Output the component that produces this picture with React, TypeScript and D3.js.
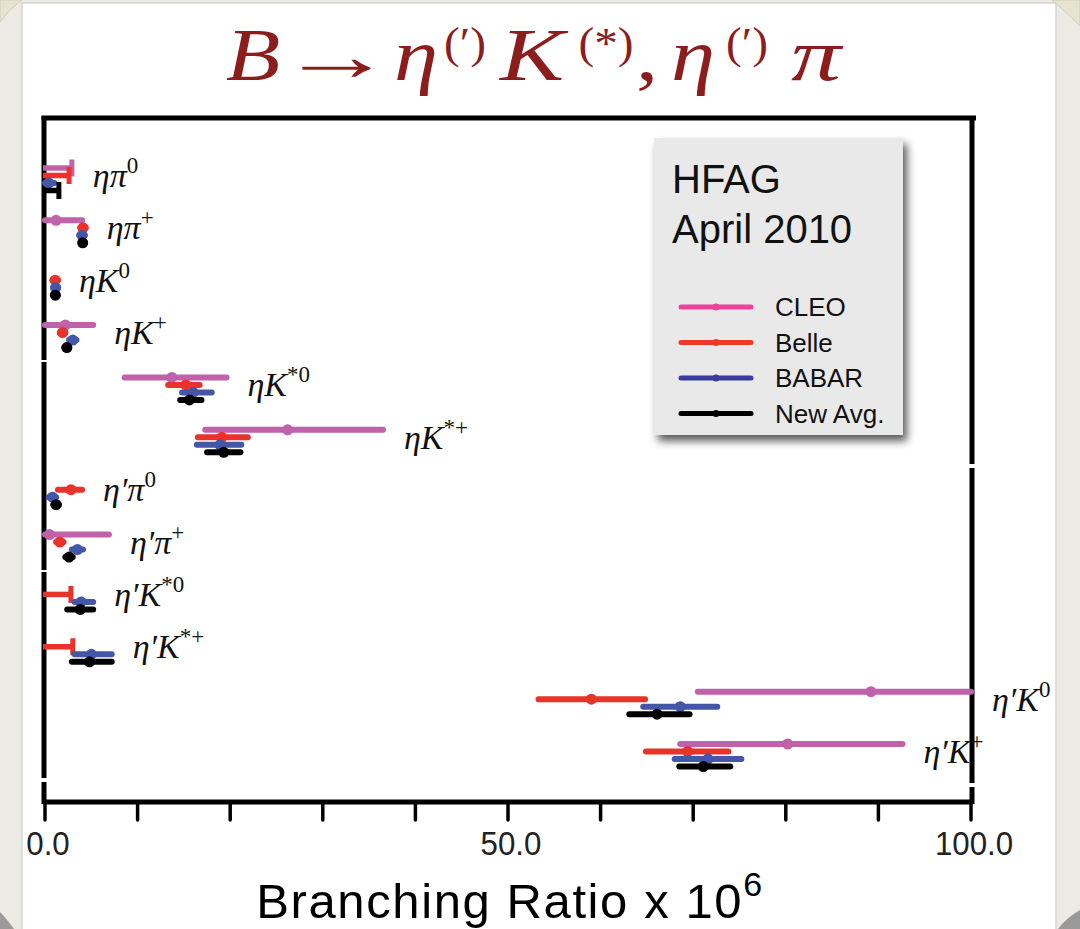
import React from "react";
import * as d3 from "d3";

type Entry = { v?: number; lo?: number; hi?: number; ul?: number } | null;

const rows = ["ηπ0", "ηπ+", "ηK0", "ηK+", "ηK*0", "ηK*+", "η′π0", "η′π+", "η′K*0", "η′K*+", "η′K0", "η′K+"];
// label parts: base text and superscript
const labelBase = ["ηπ", "ηπ", "ηK", "ηK", "ηK", "ηK", "η′π", "η′π", "η′K", "η′K", "η′K", "η′K"];
const labelSup = ["0", "+", "0", "+", "*0", "*+", "0", "+", "*0", "*+", "0", "+"];

const cleo: Entry[] = [
  { ul: 2.9 }, { v: 1.2, lo: 0, hi: 4.0 }, null, { v: 2.2, lo: 0, hi: 5.2 },
  { v: 13.7, lo: 8.6, hi: 19.6 }, { v: 26.2, lo: 17.3, hi: 36.5 }, null,
  { v: 0.5, lo: 0, hi: 6.9 }, null, null, { v: 89.2, lo: 70.5, hi: 100 }, { v: 80.2, lo: 68.6, hi: 92.6 },
];
const belle: Entry[] = [
  { ul: 2.6 }, { v: 4.1, lo: 3.8, hi: 4.4 }, { v: 1.1, lo: 0.8, hi: 1.4 }, { v: 1.9, lo: 1.6, hi: 2.2 },
  { v: 15.2, lo: 13.3, hi: 16.7 }, { v: 19.1, lo: 16.5, hi: 21.9 }, { v: 2.8, lo: 1.4, hi: 4.0 },
  { v: 1.6, lo: 1.2, hi: 2.0 }, { ul: 2.8 }, { ul: 3.0 }, { v: 59.0, lo: 53.3, hi: 64.8 }, { v: 69.4, lo: 64.9, hi: 73.8 },
];
const babar: Entry[] = [
  { v: 0.4, lo: 0, hi: 1.0 }, { v: 4.0, lo: 3.7, hi: 4.3 }, { v: 1.15, lo: 0.9, hi: 1.4 }, { v: 3.0, lo: 2.6, hi: 3.4 },
  { v: 16.0, lo: 14.8, hi: 18.0 }, { v: 18.9, lo: 16.4, hi: 21.2 }, { v: 0.8, lo: 0.4, hi: 1.2 },
  { v: 3.5, lo: 2.9, hi: 4.1 }, { v: 3.9, lo: 3.2, hi: 5.2 }, { v: 5.0, lo: 3.2, hi: 7.2 },
  { v: 68.6, lo: 64.6, hi: 72.6 }, { v: 71.6, lo: 68.0, hi: 75.2 },
];
const avg: Entry[] = [
  { ul: 1.5 }, { v: 4.07, lo: 3.85, hi: 4.3 }, { v: 1.12, lo: 0.9, hi: 1.35 }, { v: 2.36, lo: 2.1, hi: 2.6 },
  { v: 15.6, lo: 14.6, hi: 16.9 }, { v: 19.3, lo: 17.5, hi: 21.1 }, { v: 1.2, lo: 0.9, hi: 1.5 },
  { v: 2.6, lo: 2.2, hi: 3.0 }, { v: 3.8, lo: 2.4, hi: 5.2 }, { v: 4.8, lo: 2.9, hi: 7.2 },
  { v: 66.1, lo: 63.1, hi: 69.6 }, { v: 71.1, lo: 68.5, hi: 74.0 },
];

const experiments = ["CLEO", "Belle", "BABAR", "New Avg."];
const seriesData = [cleo, belle, babar, avg];
const plotColors = ["#c062aa", "#e8322a", "#4356a8", "#000000"];
const legendColors = ["#e8449a", "#ee3a24", "#3b3b9c", "#000000"];
const tickLabels = [0, 50, 100];

// title pieces: text, italic?, superscript?
const titleParts: [string, boolean, boolean][] = [
  ["B", true, false], ["→", false, false], ["η", true, false], ["(′)", false, true],
  ["K", true, false], ["(*)", false, true], [",", false, false], ["η", true, false],
  ["(′)", false, true], ["π", true, false],
];
const titleCenters = [253, 336, 416, 465, 532, 606, 647, 693, 747, 816];

const W = 1080;
const H = 929;

export default function App() {
  const x = d3.scaleLinear().domain([0, 100]).range([45, 971]);
  const y = d3.scalePoint<string>().domain(rows).range([168, 744]);
  const off = d3.scalePoint<string>().domain(experiments).range([0, 22.5]);
  const ticks = x.ticks(10);
  const fmt = d3.format(".1f");
  const serif = "'Liberation Serif', 'DejaVu Serif', serif";
  const sans = "'Liberation Sans', Arial, sans-serif";
  const titleColor = "#8b1d1d";

  const maxHi = rows.map((_, i) =>
    d3.max(seriesData, (s) => {
      const d = s[i];
      if (!d) return 0;
      return d.ul !== undefined ? d.ul : (d.hi as number);
    }) as number
  );

  const leftSegs: [number, number][] = [[116, 360], [362, 570], [572, 778], [782, 804]];
  const rightSegs: [number, number][] = [[116, 464], [468, 783], [787, 804]];

  return (
    <svg width={W} height={H} style={{ position: "absolute", left: 0, top: 0 }} xmlns="http://www.w3.org/2000/svg">
      <defs>
        <filter id="shadow" x="-10%" y="-10%" width="130%" height="130%">
          <feDropShadow dx="4" dy="6" stdDeviation="4" floodColor="#000" floodOpacity="0.65" />
        </filter>
      </defs>
      {/* slide background */}
      <rect x={0} y={0} width={W} height={H} fill="#ebeae5" />
      <rect x={22} y={3} width={1034} height={H} fill="#ffffff" stroke="#d6d6d6" strokeWidth={1.5} />
      {/* page corners */}
      <path d="M0,0 L22,0 Q8,10 0,22 Z" fill="#e6e3cf" stroke="#cfcdbd" strokeWidth={1} />
      <path d="M1080,0 L1052,0 Q1066,12 1080,26 Z" fill="#e6e3cf" stroke="#cfcdbd" strokeWidth={1} />
      <path d="M0,929 L0,912 Q6,918 14,929 Z" fill="#9a9a9a" />
      <path d="M1080,929 L1080,910 Q1066,918 1058,929 Z" fill="#9a9a9a" />

      {/* Title */}
      <g fill={titleColor} fontFamily={serif}>
        {titleParts.map(([t, it, sup], i) => {
          const sx = t === "→" ? 1.6 : sup ? 1.05 : t === "π" ? 1.35 : t === "K" ? 1.3 : 1.2;
          const by = sup ? 58 : 80;
          return (
            <text key={"tt" + i} transform={`translate(${titleCenters[i]},${by}) scale(${sx},1)`} x={0} y={0}
              textAnchor="middle" fontSize={sup ? 45 : t === "→" ? 72 : 74} fontStyle={it ? "italic" : "normal"}>{t}</text>
          );
        })}
      </g>

      {/* plot frame */}
      <line x1={41.5} x2={976} y1={118} y2={118} stroke="#000" strokeWidth={5} />
      {leftSegs.map(([a, b], i) => (
        <line key={"l" + i} x1={44} x2={44} y1={a} y2={b} stroke="#000" strokeWidth={5} />
      ))}
      {rightSegs.map(([a, b], i) => (
        <line key={"r" + i} x1={972} x2={972} y1={a} y2={b} stroke="#000" strokeWidth={5} />
      ))}
      {/* x axis */}
      <line x1={x(0)} x2={x(100)} y1={802} y2={802} stroke="#000" strokeWidth={5} />
      {ticks.map((t) => (
        <line key={"t" + t} x1={x(t)} x2={x(t)} y1={802} y2={820} stroke="#000" strokeWidth={3.5} strokeLinecap="round" />
      ))}
      {tickLabels.map((t) => (
        <text key={"tl" + t} x={0} y={0} textAnchor="middle" fontFamily={sans} fontSize={34} fill="#222"
          transform={`translate(${x(t) + 3},855) scale(0.92,1)`}>
          {fmt(t)}
        </text>
      ))}
      <text x={510} y={918} textAnchor="middle" fontFamily={sans} fontSize={49} letterSpacing={1.6} fill="#000">
        Branching Ratio x 10<tspan fontSize={34} dy={-22}>6</tspan>
      </text>

      {/* data */}
      {seriesData.map((s, k) => (
        <g key={"s" + k}>
          {s.map((d, i) => {
            if (!d) return null;
            const yy = (y(rows[i]) as number) + (off(experiments[k]) as number);
            const c = plotColors[k];
            if (d.ul !== undefined) {
              return (
                <g key={i}>
                  <line x1={x(0) - 2} x2={x(d.ul)} y1={yy} y2={yy} stroke={c} strokeWidth={5.5} />
                  <line x1={x(d.ul)} x2={x(d.ul)} y1={yy - 8.5} y2={yy + 8.5} stroke={c} strokeWidth={5} />
                </g>
              );
            }
            return (
              <g key={i}>
                <line x1={x(d.lo as number)} x2={x(d.hi as number)} y1={yy} y2={yy} stroke={c} strokeWidth={6} strokeLinecap="round" />
                <circle cx={x(d.v as number)} cy={yy} r={5.5} fill={c} />
              </g>
            );
          })}
        </g>
      ))}

      {/* row labels */}
      {rows.map((r, i) => (
        <text key={"lab" + i} x={x(maxHi[i]) + 21} y={(y(r) as number) + 19} fontFamily={serif} fontStyle="italic" fontSize={34} fill="#111">
          {labelBase[i]}
          <tspan fontSize={23} dy={-14} fontStyle="normal">{labelSup[i]}</tspan>
        </text>
      ))}

      {/* legend */}
      <rect x={654} y={138} width={249} height={297} fill="#e9e9e9" filter="url(#shadow)" />
      <text x={672} y={193} fontFamily={sans} fontSize={40} fill="#111">HFAG</text>
      <text x={672} y={243} fontFamily={sans} fontSize={40} fill="#111">April 2010</text>
      {experiments.map((e, k) => {
        const ly = 307 + k * 35.5;
        return (
          <g key={"lg" + k}>
            <line x1={681} x2={751} y1={ly} y2={ly} stroke={legendColors[k]} strokeWidth={5} strokeLinecap="round" />
            <circle cx={716} cy={ly} r={3.5} fill={legendColors[k]} />
            <text x={775} y={ly + 9} fontFamily={sans} fontSize={26} fill="#111">{e}</text>
          </g>
        );
      })}
    </svg>
  );
}
